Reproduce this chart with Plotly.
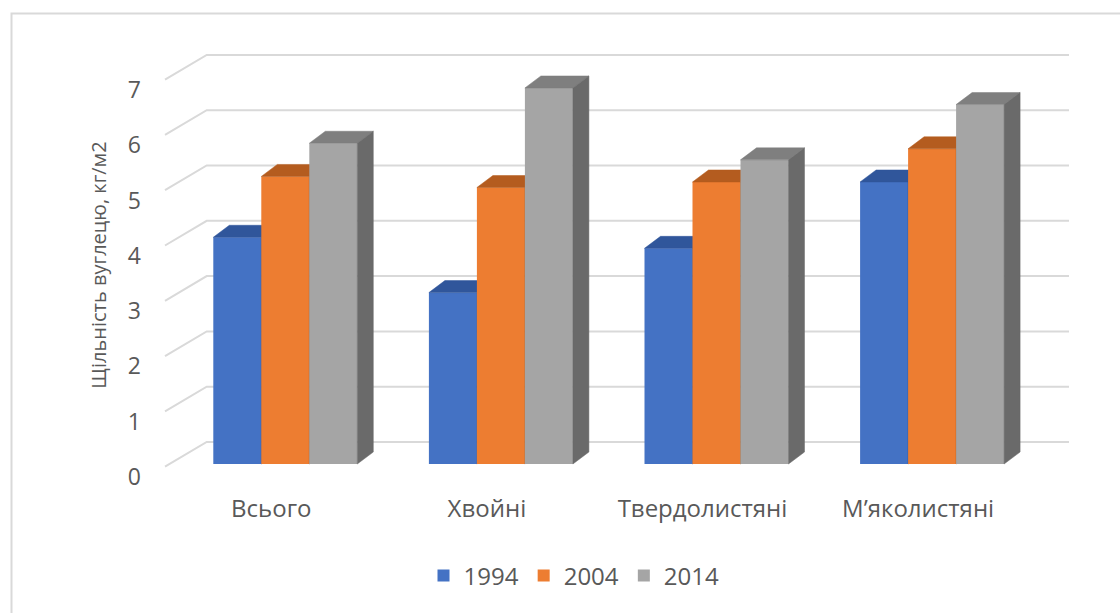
import plotly.graph_objects as go

# ---------------- data ----------------
categories = ["Всього", "Хвойні", "Твердолистяні", "М’яколистяні"]
years = ["1994", "2004", "2014"]
v1994 = [4.1, 3.1, 3.9, 5.1]
v2004 = [5.2, 5.0, 5.1, 5.7]
v2014 = [5.8, 6.8, 5.5, 6.5]
y_ticks = [0, 1, 2, 3, 4, 5, 6, 7]
y_title = "Щільність вуглецю, кг/м2"

series = [v1994, v2004, v2014]
front_colors = ["#4472C4", "#ED7D31", "#A5A5A5"]
top_colors = ["#30569B", "#B45C1F", "#7F7F7F"]
side_colors = ["#2C4F8F", "#A9561D", "#6A6A6A"]

FONT = "Open Sans, Liberation Sans, Arial, sans-serif"
TXT = "#595959"
GRID = "#D9D9D9"

# ---------------- geometry (pixel-based layout) ----------------
W, H = 1120, 613
XPX, X0PX = 215.6, 285.3     # px per category, px of category 0 (front plane)
YPX, Y0PX = 55.3, 464.0      # px per unit, px of value 0 (bar front plane)
PL, PR, PT, PB = 150, 1080, 45, 485   # plot area in px

xr_ = [(PL - X0PX) / XPX, (PR - X0PX) / XPX]
yr_ = [(Y0PX - PB) / YPX, (Y0PX - PT) / YPX]

bar_w = 48 / XPX
bar_dx = 16 / XPX
bar_dy = 12 / YPX
floor_x = (165 - X0PX) / XPX
floor_dy = -2.7 / YPX
wall_x = (206.7 - X0PX) / XPX
wall_dy = 22 / YPX
wall_xr = (1069 - X0PX) / XPX
cat_shift = -14 / XPX
ytick_shift = -13 / YPX


def px2paper_x(px):
    return (px - PL) / (PR - PL)


def px2paper_y(py):
    return (PB - py) / (PB - PT)


fig = go.Figure()

# back wall gridlines with the left-wall diagonals
gx, gy = [], []
for v in y_ticks:
    gx += [floor_x, wall_x, wall_xr, None]
    gy += [v + floor_dy, v + wall_dy, v + wall_dy, None]
fig.add_trace(go.Scatter(x=gx, y=gy, mode="lines", line=dict(color=GRID, width=2),
                         hoverinfo="skip", showlegend=False, xaxis="x", yaxis="y"))

# bars: each series in its own overlaid layer so 3D faces occlude correctly
for k, vals in enumerate(series):
    xa, ya = f"x{k + 2}", f"y{k + 2}"
    off = (k - 1.5) * bar_w
    fig.add_trace(go.Bar(
        x=list(range(len(categories))), y=vals, base=0, offset=off, width=bar_w,
        marker=dict(color=front_colors[k], line=dict(width=0)),
        name=years[k], xaxis=xa, yaxis=ya, hoverinfo="skip"))
    tx, ty, sx, sy = [], [], [], []
    for i, v in enumerate(vals):
        xl = i + off
        xrr = xl + bar_w
        tx += [xl, xrr, xrr + bar_dx, xl + bar_dx, xl, None]
        ty += [v, v, v + bar_dy, v + bar_dy, v, None]
        sx += [xrr, xrr + bar_dx, xrr + bar_dx, xrr, xrr, None]
        sy += [0, bar_dy, v + bar_dy, v, 0, None]
    fig.add_trace(go.Scatter(x=tx, y=ty, mode="lines", fill="toself",
                             fillcolor=top_colors[k],
                             line=dict(color=top_colors[k], width=0.5),
                             hoverinfo="skip", showlegend=False, xaxis=xa, yaxis=ya))
    fig.add_trace(go.Scatter(x=sx, y=sy, mode="lines", fill="toself",
                             fillcolor=side_colors[k],
                             line=dict(color=side_colors[k], width=0.5),
                             hoverinfo="skip", showlegend=False, xaxis=xa, yaxis=ya))

layout = dict(
    width=W, height=H,
    margin=dict(l=PL, r=W - PR, t=PT, b=H - PB, pad=0),
    paper_bgcolor="white", plot_bgcolor="rgba(0,0,0,0)",
    barmode="overlay",
    font=dict(family=FONT, color=TXT, size=23),
    showlegend=True,
    legend=dict(orientation="h", x=px2paper_x(574), xanchor="center",
                y=px2paper_y(576), yanchor="middle",
                font=dict(family=FONT, color=TXT, size=24),
                bgcolor="rgba(0,0,0,0)", traceorder="normal"),
    xaxis=dict(range=xr_, showgrid=False, zeroline=False, showline=False,
               tickmode="array",
               tickvals=[i + cat_shift for i in range(len(categories))],
               ticktext=categories, ticks="", ticklabelstandoff=7,
               tickfont=dict(family=FONT, color=TXT, size=24), fixedrange=True),
    yaxis=dict(range=yr_, showgrid=False, zeroline=False, showline=False,
               tickmode="array", tickvals=[v + ytick_shift for v in y_ticks],
               ticktext=[str(v) for v in y_ticks], ticks="", ticklabelstandoff=8,
               tickfont=dict(family=FONT, color=TXT, size=23),
               title=dict(text=y_title, font=dict(family=FONT, color=TXT, size=20),
                          standoff=15),
               fixedrange=True),
    shapes=[dict(type="rect", xref="paper", yref="paper",
                 x0=px2paper_x(11.5), x1=px2paper_x(1160),
                 y0=px2paper_y(660), y1=px2paper_y(13.5),
                 line=dict(color=GRID, width=2), fillcolor="rgba(0,0,0,0)",
                 layer="below")],
)
for k in range(len(series)):
    layout[f"xaxis{k + 2}"] = dict(range=xr_, overlaying="x", anchor=f"y{k + 2}",
                                    visible=False, fixedrange=True)
    layout[f"yaxis{k + 2}"] = dict(range=yr_, overlaying="y", anchor=f"x{k + 2}",
                                    visible=False, fixedrange=True)
fig.update_layout(**layout)

fig.write_html("out.html", config={"displayModeBar": False},
               post_script="document.body.style.margin='0px';"
                           "document.body.style.overflow='hidden';")
